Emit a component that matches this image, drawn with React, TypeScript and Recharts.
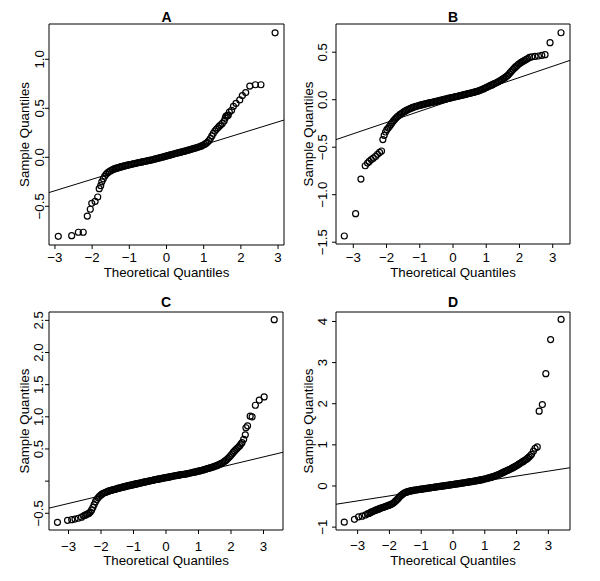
import React from "react";
import {
  ScatterChart,
  Scatter,
  XAxis,
  YAxis,
  ReferenceLine,
  ReferenceArea,
} from "recharts";

const font = "'Liberation Sans', Arial, Helvetica, sans-serif";

// theoretical quantile axis, same for all four panels
const theoTicks = [-3, -2, -1, 0, 1, 2, 3];
const theoLabels = ["−3", "−2", "−1", "0", "1", "2", "3"];

// panel A (theoretical, sample)
const qqA: [number, number][] = [
  [-2.91, -0.806], [-2.55, -0.8], [-2.37, -0.765], [-2.24, -0.765], [-2.13, -0.6],
  [-2.05, -0.53], [-2.01, -0.47], [-1.92, -0.45], [-1.85, -0.405], [-1.81, -0.32],
  [-1.77, -0.29], [-1.74, -0.25],
  [-1.7, -0.22], [-1.66, -0.192], [-1.62, -0.171], [-1.58, -0.157], [-1.54, -0.146],
  [-1.5, -0.137], [-1.46, -0.128], [-1.42, -0.12], [-1.38, -0.114], [-1.34, -0.11],
  [-1.3, -0.105], [-1.26, -0.101], [-1.22, -0.096], [-1.18, -0.092], [-1.14, -0.088],
  [-1.1, -0.085], [-1.06, -0.081], [-1.02, -0.078], [-0.98, -0.074], [-0.94, -0.071],
  [-0.9, -0.067], [-0.86, -0.064], [-0.82, -0.061], [-0.78, -0.057], [-0.74, -0.054],
  [-0.7, -0.051], [-0.66, -0.047], [-0.62, -0.044], [-0.58, -0.041], [-0.54, -0.038],
  [-0.5, -0.035], [-0.46, -0.031], [-0.42, -0.028], [-0.38, -0.025], [-0.34, -0.021],
  [-0.3, -0.017], [-0.26, -0.013], [-0.22, -0.009], [-0.18, -0.005], [-0.14, -0.001],
  [-0.1, 0.003], [-0.06, 0.007], [-0.02, 0.011], [0.02, 0.015], [0.06, 0.019],
  [0.1, 0.024], [0.14, 0.028], [0.18, 0.032], [0.22, 0.036], [0.26, 0.04],
  [0.3, 0.044], [0.34, 0.048], [0.38, 0.052], [0.42, 0.056], [0.46, 0.06],
  [0.5, 0.064], [0.54, 0.068], [0.58, 0.073], [0.62, 0.077], [0.66, 0.081],
  [0.7, 0.086], [0.74, 0.09], [0.78, 0.095], [0.82, 0.1], [0.86, 0.105],
  [0.9, 0.11], [0.94, 0.116], [0.98, 0.123], [1.02, 0.131], [1.06, 0.141],
  [1.1, 0.153], [1.14, 0.17], [1.18, 0.191], [1.22, 0.218], [1.26, 0.245],
  [1.3, 0.268], [1.34, 0.285], [1.38, 0.301], [1.42, 0.317], [1.46, 0.332],
  [1.5, 0.345],
  [1.55, 0.37], [1.58, 0.4], [1.6, 0.42], [1.63, 0.425], [1.66, 0.43],
  [1.69, 0.46], [1.75, 0.48], [1.8, 0.52], [1.87, 0.55], [1.97, 0.585],
  [2.04, 0.63], [2.13, 0.66], [2.24, 0.727], [2.39, 0.74], [2.54, 0.74],
  [2.92, 1.27],
];
const lineA: [number, number][] = [[-3.16, -0.36], [3.16, 0.38]];
const yTicksA = [-0.5, 0, 0.5, 1];
const yLabelsA = ["−0.5", "0.0", "0.5", "1.0"];

// panel B
const qqB: [number, number][] = [
  [-3.27, -1.435], [-2.93, -1.2], [-2.77, -0.835], [-2.64, -0.695], [-2.57, -0.667],
  [-2.52, -0.65], [-2.46, -0.63], [-2.4, -0.615], [-2.33, -0.597], [-2.27, -0.575],
  [-2.21, -0.555], [-2.15, -0.54], [-2.11, -0.42],
  [-2.07, -0.375], [-2.03, -0.34], [-1.99, -0.315], [-1.95, -0.299], [-1.91, -0.28],
  [-1.87, -0.26], [-1.83, -0.241], [-1.79, -0.222], [-1.75, -0.206], [-1.71, -0.191],
  [-1.67, -0.178], [-1.63, -0.166], [-1.59, -0.155], [-1.55, -0.145], [-1.51, -0.135],
  [-1.47, -0.126], [-1.43, -0.118], [-1.39, -0.11], [-1.35, -0.103], [-1.31, -0.096],
  [-1.27, -0.09], [-1.23, -0.084], [-1.19, -0.079], [-1.15, -0.074], [-1.11, -0.07],
  [-1.07, -0.066], [-1.03, -0.062], [-0.99, -0.058], [-0.95, -0.054], [-0.91, -0.051],
  [-0.87, -0.047], [-0.83, -0.044], [-0.79, -0.041], [-0.75, -0.037], [-0.71, -0.034],
  [-0.67, -0.031], [-0.63, -0.027], [-0.59, -0.024], [-0.55, -0.021], [-0.51, -0.017],
  [-0.47, -0.014], [-0.43, -0.011], [-0.39, -0.008], [-0.35, -0.004], [-0.31, -0.001],
  [-0.27, 0.003], [-0.23, 0.006], [-0.19, 0.009], [-0.15, 0.013], [-0.11, 0.016],
  [-0.07, 0.019], [-0.03, 0.022], [0.01, 0.026], [0.05, 0.029], [0.09, 0.032],
  [0.13, 0.036], [0.17, 0.039], [0.21, 0.043], [0.25, 0.046], [0.29, 0.049],
  [0.33, 0.053], [0.37, 0.056], [0.41, 0.059], [0.45, 0.063], [0.49, 0.066],
  [0.53, 0.069], [0.57, 0.073], [0.61, 0.077], [0.65, 0.081], [0.69, 0.085],
  [0.73, 0.089], [0.77, 0.094], [0.81, 0.099], [0.85, 0.104], [0.89, 0.11],
  [0.93, 0.116], [0.97, 0.123], [1.01, 0.13], [1.05, 0.136], [1.09, 0.143],
  [1.13, 0.15], [1.17, 0.156], [1.21, 0.163], [1.25, 0.17], [1.29, 0.176],
  [1.33, 0.183], [1.37, 0.191], [1.41, 0.199], [1.45, 0.207], [1.49, 0.216],
  [1.53, 0.225], [1.57, 0.235], [1.61, 0.245], [1.65, 0.257], [1.69, 0.272],
  [1.73, 0.288], [1.77, 0.304], [1.81, 0.32], [1.85, 0.335], [1.89, 0.348],
  [1.93, 0.36], [1.97, 0.372], [2.01, 0.383], [2.05, 0.393], [2.09, 0.402],
  [2.13, 0.41], [2.17, 0.418], [2.21, 0.426], [2.25, 0.434],
  [2.3, 0.445], [2.37, 0.45], [2.47, 0.456], [2.57, 0.46], [2.67, 0.466],
  [2.77, 0.474], [2.92, 0.6], [3.25, 0.705],
];
const lineB: [number, number][] = [[-3.52, -0.42], [3.52, 0.414]];
const yTicksB = [-1.5, -1, -0.5, 0, 0.5];
const yLabelsB = ["−1.5", "−1.0", "−0.5", "0.0", "0.5"];

// panel C
const qqC: [number, number][] = [
  [-3.34, -0.64], [-3.03, -0.61], [-2.9, -0.6], [-2.8, -0.59], [-2.7, -0.577],
  [-2.6, -0.56],
  [-2.53, -0.54], [-2.49, -0.53], [-2.45, -0.52], [-2.41, -0.51], [-2.37, -0.498],
  [-2.33, -0.482], [-2.29, -0.452], [-2.25, -0.41], [-2.21, -0.365], [-2.17, -0.32],
  [-2.13, -0.286], [-2.09, -0.259], [-2.05, -0.235], [-2.01, -0.218], [-1.97, -0.203],
  [-1.93, -0.19], [-1.89, -0.181], [-1.85, -0.173], [-1.81, -0.164], [-1.77, -0.156],
  [-1.73, -0.149], [-1.69, -0.143], [-1.65, -0.137], [-1.61, -0.131], [-1.57, -0.126],
  [-1.53, -0.12], [-1.49, -0.114], [-1.45, -0.108], [-1.41, -0.103], [-1.37, -0.097],
  [-1.33, -0.092], [-1.29, -0.087], [-1.25, -0.082], [-1.21, -0.077], [-1.17, -0.071],
  [-1.13, -0.066], [-1.09, -0.062], [-1.05, -0.057], [-1.01, -0.053], [-0.97, -0.048],
  [-0.93, -0.044], [-0.89, -0.039], [-0.85, -0.035], [-0.81, -0.03], [-0.77, -0.026],
  [-0.73, -0.021], [-0.69, -0.016], [-0.65, -0.012], [-0.61, -0.007], [-0.57, -0.003],
  [-0.53, 0.002], [-0.49, 0.006], [-0.45, 0.01], [-0.41, 0.014], [-0.37, 0.018],
  [-0.33, 0.022], [-0.29, 0.026], [-0.25, 0.03], [-0.21, 0.034], [-0.17, 0.038],
  [-0.13, 0.042], [-0.09, 0.046], [-0.05, 0.05], [-0.01, 0.054], [0.03, 0.058],
  [0.07, 0.062], [0.11, 0.066], [0.15, 0.07], [0.19, 0.074], [0.23, 0.078],
  [0.27, 0.082], [0.31, 0.086], [0.35, 0.089], [0.39, 0.093], [0.43, 0.096],
  [0.47, 0.1], [0.51, 0.103], [0.55, 0.107], [0.59, 0.11], [0.63, 0.114],
  [0.67, 0.118], [0.71, 0.122], [0.75, 0.126], [0.79, 0.13], [0.83, 0.135],
  [0.87, 0.139], [0.91, 0.144], [0.95, 0.149], [0.99, 0.154], [1.03, 0.159],
  [1.07, 0.164], [1.11, 0.169], [1.15, 0.174], [1.19, 0.181], [1.23, 0.187],
  [1.27, 0.193], [1.31, 0.199], [1.35, 0.205], [1.39, 0.212], [1.43, 0.218],
  [1.47, 0.225], [1.51, 0.232], [1.55, 0.239], [1.59, 0.248], [1.63, 0.257],
  [1.67, 0.267], [1.71, 0.278], [1.75, 0.29], [1.79, 0.302], [1.83, 0.318],
  [1.87, 0.335], [1.91, 0.355], [1.95, 0.375], [1.99, 0.398], [2.03, 0.422],
  [2.07, 0.446], [2.11, 0.47], [2.15, 0.49], [2.19, 0.51], [2.23, 0.53],
  [2.27, 0.552], [2.31, 0.58],
  [2.34, 0.6], [2.39, 0.65], [2.44, 0.72], [2.46, 0.83], [2.51, 0.86],
  [2.59, 1.01], [2.65, 1.0], [2.75, 1.18], [2.87, 1.26], [3.02, 1.31],
  [3.33, 2.51],
];
const lineC: [number, number][] = [[-3.6, -0.42], [3.6, 0.449]];
const yTicksC = [-0.5, 0, 0.5, 1, 1.5, 2, 2.5];
const yLabelsC = ["−0.5", "", "0.5", "1.0", "1.5", "2.0", "2.5"];

// panel D
const qqD: [number, number][] = [
  [-3.42, -0.88], [-3.1, -0.81], [-2.97, -0.75], [-2.86, -0.735], [-2.76, -0.705],
  [-2.69, -0.68], [-2.65, -0.667], [-2.61, -0.652], [-2.57, -0.635], [-2.53, -0.622],
  [-2.49, -0.608], [-2.45, -0.595], [-2.41, -0.581], [-2.37, -0.569], [-2.33, -0.558],
  [-2.29, -0.546], [-2.25, -0.534], [-2.21, -0.523], [-2.17, -0.512], [-2.13, -0.501],
  [-2.09, -0.49], [-2.05, -0.479], [-2.01, -0.467], [-1.97, -0.455], [-1.93, -0.439],
  [-1.89, -0.42], [-1.85, -0.398], [-1.81, -0.37], [-1.77, -0.34], [-1.73, -0.308],
  [-1.69, -0.272], [-1.65, -0.24], [-1.61, -0.213], [-1.57, -0.19], [-1.53, -0.17],
  [-1.49, -0.156], [-1.45, -0.145], [-1.41, -0.135], [-1.37, -0.127], [-1.33, -0.12],
  [-1.29, -0.113], [-1.25, -0.108], [-1.21, -0.102], [-1.17, -0.097], [-1.13, -0.092],
  [-1.09, -0.087], [-1.05, -0.083], [-1.01, -0.078], [-0.97, -0.074], [-0.93, -0.069],
  [-0.89, -0.065], [-0.85, -0.06], [-0.81, -0.055], [-0.77, -0.051], [-0.73, -0.046],
  [-0.69, -0.042], [-0.65, -0.037], [-0.61, -0.032], [-0.57, -0.028], [-0.53, -0.023],
  [-0.49, -0.019], [-0.45, -0.014], [-0.41, -0.01], [-0.37, -0.005], [-0.33, -0.001],
  [-0.29, 0.004], [-0.25, 0.008], [-0.21, 0.013], [-0.17, 0.018], [-0.13, 0.022],
  [-0.09, 0.027], [-0.05, 0.031], [-0.01, 0.036], [0.03, 0.04], [0.07, 0.045],
  [0.11, 0.05], [0.15, 0.054], [0.19, 0.059], [0.23, 0.063], [0.27, 0.068],
  [0.31, 0.073], [0.35, 0.077], [0.39, 0.083], [0.43, 0.088], [0.47, 0.093],
  [0.51, 0.098], [0.55, 0.103], [0.59, 0.108], [0.63, 0.114], [0.67, 0.119],
  [0.71, 0.124], [0.75, 0.13], [0.79, 0.136], [0.83, 0.142], [0.87, 0.148],
  [0.91, 0.154], [0.95, 0.161], [0.99, 0.168], [1.03, 0.176], [1.07, 0.184],
  [1.11, 0.192], [1.15, 0.201], [1.19, 0.21], [1.23, 0.22], [1.27, 0.23],
  [1.31, 0.24], [1.35, 0.251], [1.39, 0.264], [1.43, 0.278], [1.47, 0.292],
  [1.51, 0.306], [1.55, 0.321], [1.59, 0.335], [1.63, 0.349], [1.67, 0.364],
  [1.71, 0.378], [1.75, 0.392], [1.79, 0.406], [1.83, 0.423], [1.87, 0.44],
  [1.91, 0.457], [1.95, 0.474], [1.99, 0.491], [2.03, 0.51], [2.07, 0.53],
  [2.11, 0.55], [2.15, 0.57], [2.19, 0.59], [2.23, 0.61], [2.27, 0.63],
  [2.31, 0.65], [2.35, 0.676], [2.39, 0.703], [2.43, 0.735], [2.47, 0.77],
  [2.53, 0.85], [2.58, 0.915], [2.65, 0.95], [2.71, 1.82], [2.81, 1.98],
  [2.92, 2.73], [3.07, 3.56], [3.4, 4.05],
];
const lineD: [number, number][] = [[-3.68, -0.444], [3.68, 0.444]];
const yTicksD = [-1, 0, 1, 2, 3, 4];
const yLabelsD = ["−1", "0", "1", "2", "3", "4"];

const panels = [
  {
    title: "A", pts: qqA, line: lineA, yTicks: yTicksA, yLabels: yLabelsA,
    xDomain: [-3.16, 3.16], yDomain: [-0.895, 1.36],
    left: 0, top: 0, w: 300, h: 290,
    box: { l: 49, t: 24, r: 284, b: 245 },
    yLab: 44, yTitle: 29.3, xLab: 262.3, xTitle: 277, titleY: 21.7,
  },
  {
    title: "B", pts: qqB, line: lineB, yTicks: yTicksB, yLabels: yLabelsB,
    xDomain: [-3.52, 3.52], yDomain: [-1.519, 0.797],
    left: 300, top: 0, w: 300, h: 290,
    box: { l: 36, t: 24, r: 270, b: 244 },
    yLab: 26.7, yTitle: 12.7, xLab: 262.3, xTitle: 276.5, titleY: 21.7,
  },
  {
    title: "C", pts: qqC, line: lineC, yTicks: yTicksC, yLabels: yLabelsC,
    xDomain: [-3.6, 3.6], yDomain: [-0.76, 2.63],
    left: 0, top: 290, w: 300, h: 291,
    box: { l: 49, t: 22, r: 283, b: 240 },
    yLab: 43.3, yTitle: 28.5, xLab: 260.5, xTitle: 275, titleY: 17.3,
  },
  {
    title: "D", pts: qqD, line: lineD, yTicks: yTicksD, yLabels: yLabelsD,
    xDomain: [-3.68, 3.68], yDomain: [-1.07, 4.23],
    left: 300, top: 290, w: 300, h: 291,
    box: { l: 36, t: 22, r: 270, b: 240 },
    yLab: 26.7, yTitle: 12.7, xLab: 259.5, xTitle: 275, titleY: 17.3,
  },
];

type PanelCfg = (typeof panels)[number];

const ring = (props: any) => (
  <circle cx={props.cx} cy={props.cy} r={3} fill="none" stroke="#000" strokeWidth={1.2} />
);

function Panel({ p }: { p: PanelCfg }) {
  const data = p.pts.map(([x, y]) => ({ x, y }));
  const cx = (p.box.l + p.box.r) / 2;
  const cy = (p.box.t + p.box.b) / 2;
  return (
    <div style={{ position: "absolute", left: p.left, top: p.top, width: p.w, height: p.h }}>
      <ScatterChart
        width={p.w}
        height={p.h}
        margin={{ top: p.box.t, right: p.w - p.box.r, bottom: 0, left: 0 }}
      >
        <XAxis
          type="number"
          dataKey="x"
          domain={p.xDomain}
          ticks={theoTicks}
          interval={0}
          allowDataOverflow
          height={p.h - p.box.b}
          tickSize={4}
          axisLine={false}
          stroke="#000"
          tickLine={{ stroke: "#000" }}
          tick={(t: any) => (
            <text x={t.x} y={p.xLab} textAnchor="middle" fontSize={13.3} fontFamily={font} fill="#000">
              {theoLabels[theoTicks.indexOf(t.payload.value)]}
            </text>
          )}
        />
        <YAxis
          type="number"
          dataKey="y"
          domain={p.yDomain}
          ticks={p.yTicks}
          interval={0}
          allowDataOverflow
          width={p.box.l}
          tickSize={4}
          axisLine={false}
          stroke="#000"
          tickLine={{ stroke: "#000" }}
          tick={(t: any) => (
            <text
              x={p.yLab}
              y={t.y}
              transform={`rotate(-90 ${p.yLab} ${t.y})`}
              textAnchor="middle"
              fontSize={13.3}
              fontFamily={font}
              fill="#000"
            >
              {p.yLabels[p.yTicks.indexOf(t.payload.value)]}
            </text>
          )}
        />
        <ReferenceLine
          segment={[
            { x: p.line[0][0], y: p.line[0][1] },
            { x: p.line[1][0], y: p.line[1][1] },
          ]}
          stroke="#000"
          strokeWidth={1}
          ifOverflow="visible"
        />
        <Scatter data={data} shape={ring} isAnimationActive={false} />
        <ReferenceArea
          x1={p.xDomain[0]}
          x2={p.xDomain[1]}
          y1={p.yDomain[0]}
          y2={p.yDomain[1]}
          fill="none"
          fillOpacity={0}
          stroke="#000"
          strokeWidth={1}
          ifOverflow="visible"
        />
      </ScatterChart>
      <svg
        width={p.w}
        height={p.h}
        style={{ position: "absolute", left: 0, top: 0, pointerEvents: "none" }}
      >
        <text x={cx} y={p.titleY} textAnchor="middle" fontSize={14} fontWeight="bold" fontFamily={font}>
          {p.title}
        </text>
        <text x={cx} y={p.xTitle} textAnchor="middle" fontSize={13.3} fontFamily={font}>
          Theoretical Quantiles
        </text>
        <text
          x={p.yTitle}
          y={cy}
          transform={`rotate(-90 ${p.yTitle} ${cy})`}
          textAnchor="middle"
          fontSize={13.3}
          fontFamily={font}
        >
          Sample Quantiles
        </text>
      </svg>
    </div>
  );
}

export default function App() {
  return (
    <div
      style={{
        position: "absolute",
        left: 0,
        top: 0,
        width: 600,
        height: 581,
        background: "#fff",
        fontFamily: font,
      }}
    >
      {panels.map((p) => (
        <Panel key={p.title} p={p} />
      ))}
    </div>
  );
}
